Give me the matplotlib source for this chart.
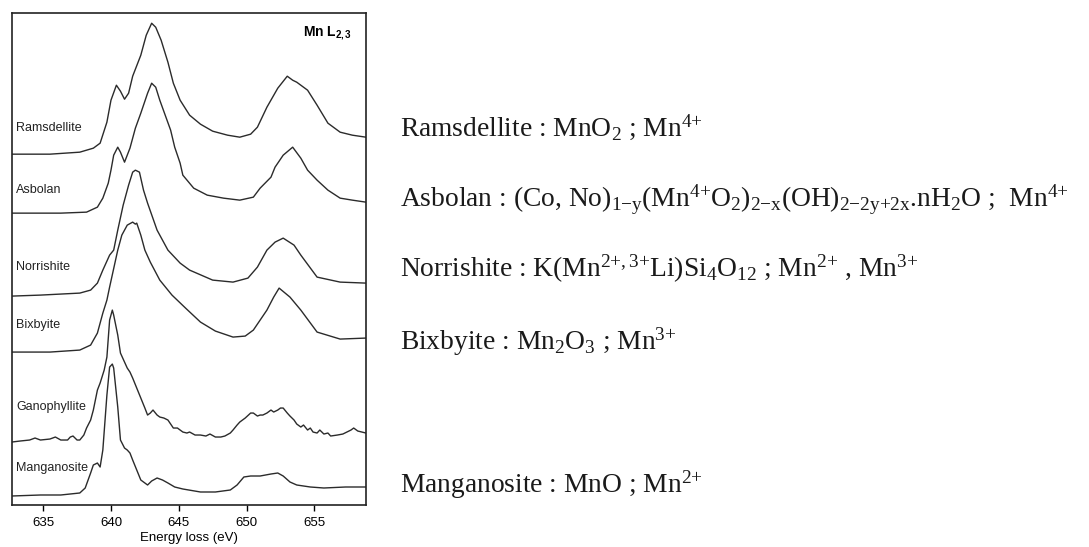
import matplotlib
matplotlib.use("Agg")
import matplotlib.pyplot as plt

# Mn L2,3 edge spectra, intensities in arbitrary units (stacked)
ramsdellite_e = [632.7, 635.5, 637.7, 638.7, 639.2, 639.7, 640.0, 640.4, 640.7, 641.0,
                 641.3, 641.6, 642.2, 642.6, 643.0, 643.3, 643.7, 644.2, 644.6, 645.1,
                 645.8, 646.6, 647.5, 648.6, 649.5, 650.3, 650.8, 651.5, 652.3, 653.0,
                 653.4, 653.7, 654.5, 655.2, 656.0, 656.9, 657.8, 658.8]
ramsdellite_i = [351, 351, 353, 357, 362, 383, 405, 420, 414, 406,
                 412, 429, 450, 470, 482, 478, 465, 443, 422, 405,
                 390, 381, 374, 370, 368, 371, 378, 398, 417, 429,
                 425, 423, 415, 400, 382, 373, 370, 368]

asbolan_e = [632.7, 634.8, 636.3, 638.2, 639.0, 639.4, 639.8, 640.0, 640.2, 640.5,
             640.7, 641.0, 641.4, 641.8, 642.2, 642.7, 643.0, 643.3, 643.6, 644.0,
             644.4, 644.7, 645.1, 645.3, 646.1, 647.1, 648.3, 649.5, 650.5, 651.0,
             651.8, 652.1, 652.7, 653.4, 654.0, 654.5, 655.2, 656.0, 656.9, 657.8, 658.8]
asbolan_i = [292, 292, 292, 293, 298, 307, 322, 335, 350, 358,
             353, 343, 357, 377, 392, 412, 422, 418, 405, 390,
             375, 358, 342, 330, 317, 310, 307, 305, 308, 317,
             328, 338, 350, 358, 347, 335, 325, 315, 307, 305, 303]

norrishite_e = [632.7, 634.8, 637.7, 638.5, 639.0, 639.4, 639.9, 640.2, 640.5, 640.9,
                641.3, 641.6, 641.8, 642.1, 642.4, 642.7, 643.4, 644.2, 645.1, 645.8,
                647.5, 649.0, 650.1, 650.8, 651.5, 652.1, 652.7, 653.5, 654.0, 655.2,
                656.9, 658.8]
norrishite_i = [209, 210, 212, 215, 222, 235, 250, 255, 275, 300,
                320, 333, 335, 333, 315, 302, 275, 255, 242, 235,
                225, 223, 227, 238, 255, 263, 267, 260, 250, 228,
                223, 222]

bixbyite_e = [632.7, 635.5, 637.7, 638.5, 639.0, 639.4, 639.7, 639.9, 640.5, 640.8,
              641.2, 641.6, 641.8, 641.9, 642.2, 642.5, 642.9, 643.6, 644.5, 645.5,
              646.6, 647.7, 649.0, 649.9, 650.5, 651.0, 651.5, 652.0, 652.4, 653.2,
              654.0, 655.2, 656.9, 658.8]
bixbyite_i = [153, 153, 155, 160, 172, 192, 205, 218, 255, 270,
              280, 283, 281, 282, 270, 255, 243, 225, 210, 197,
              183, 174, 168, 169, 175, 185, 195, 208, 217, 208,
              195, 173, 166, 167]

ganophyllite_e = [632.7, 633.3, 634.0, 634.4, 634.8, 635.5, 635.9, 636.3, 636.8, 637.0,
                  637.2, 637.5, 637.7, 638.0, 638.2, 638.5, 638.7, 639.0, 639.2, 639.5,
                  639.7, 639.9, 640.1, 640.2, 640.5, 640.7, 641.0, 641.2, 641.4, 641.6,
                  641.9, 642.2, 642.5, 642.7, 642.9, 643.1, 643.4, 643.6, 643.9, 644.2,
                  644.4, 644.6, 644.9, 645.1, 645.3, 645.6, 645.8, 646.2, 646.6, 647.0,
                  647.3, 647.7, 648.1, 648.4, 648.8, 649.0, 649.3, 649.5, 649.9, 650.3,
                  650.5, 650.8, 651.0, 651.2, 651.5, 651.8, 652.0, 652.3, 652.5, 652.7,
                  653.0, 653.2, 653.5, 653.7, 654.0, 654.2, 654.5, 654.7, 654.9, 655.2,
                  655.4, 655.7, 656.0, 656.2, 656.7, 657.1, 657.7, 657.9, 658.2, 658.5,
                  658.8]
ganophyllite_i = [63, 64, 65, 67, 65, 66, 68, 65, 65, 68,
                  69, 65, 65, 70, 77, 85, 95, 115, 122, 135,
                  148, 185, 195, 190, 170, 152, 143, 137, 133, 127,
                  117, 107, 97, 90, 92, 95, 90, 88, 87, 85,
                  81, 77, 77, 75, 73, 72, 73, 70, 70, 69,
                  71, 68, 68, 69, 72, 75, 80, 83, 87, 92,
                  92, 89, 90, 90, 92, 95, 93, 95, 97, 97,
                  92, 89, 85, 81, 78, 80, 75, 77, 73, 72,
                  75, 71, 72, 69, 70, 71, 75, 77, 74, 73,
                  72]

manganosite_e = [632.7, 634.8, 636.3, 637.7, 638.1, 638.5, 638.7, 639.0, 639.2, 639.4,
                 639.7, 639.9, 640.1, 640.2, 640.5, 640.7, 641.0, 641.2, 641.4, 641.6,
                 641.9, 642.2, 642.4, 642.7, 643.0, 643.4, 643.8, 644.2, 644.7, 645.3,
                 646.6, 647.7, 648.8, 649.3, 649.8, 650.3, 651.0, 651.8, 652.3, 652.7,
                 653.2, 653.7, 654.7, 655.7, 657.3, 658.8]
manganosite_i = [9, 10, 10, 12, 17, 32, 40, 42, 38, 55,
                 110, 138, 141, 137, 98, 65, 57, 55, 52, 45,
                 35, 25, 23, 20, 24, 27, 25, 22, 18, 16,
                 13, 13, 15, 20, 28, 29, 29, 31, 32, 29,
                 23, 20, 18, 17, 18, 18]

names = ["Ramsdellite", "Asbolan", "Norrishite", "Bixbyite", "Ganophyllite", "Manganosite"]
energies = [ramsdellite_e, asbolan_e, norrishite_e, bixbyite_e, ganophyllite_e, manganosite_e]
intensities = [ramsdellite_i, asbolan_i, norrishite_i, bixbyite_i, ganophyllite_i, manganosite_i]
label_y = [377, 315, 238, 180, 98, 37]

formulas = [
    r"Ramsdellite : MnO$_2$ ; Mn$^{4{+}}$",
    r"Asbolan : (Co, No)$_{\mathrm{1{-}y}}$(Mn$^{4{+}}$O$_2$)$_{\mathrm{2{-}x}}$(OH)$_{\mathrm{2{-}2y{+}2x}}$.nH$_2$O ;  Mn$^{4{+}}$",
    r"Norrishite : K(Mn$^{\mathit{2{+},3{+}}}$Li)Si$_4$O$_{12}$ ; Mn$^{2{+}}$ , Mn$^{3{+}}$",
    r"Bixbyite : Mn$_2$O$_3$ ; Mn$^{3{+}}$",
    r"Manganosite : MnO ; Mn$^{2{+}}$",
]
formula_y = [0.753, 0.622, 0.494, 0.360, 0.099]

plt.rcParams["mathtext.fontset"] = "custom"
plt.rcParams["mathtext.rm"] = "Liberation Serif"
plt.rcParams["mathtext.it"] = "Liberation Serif:italic"
plt.rcParams["mathtext.bf"] = "Liberation Sans:bold"

fig = plt.figure(figsize=(10.89, 5.47), dpi=100)
ax = fig.add_axes([0.011, 0.0768, 0.325, 0.899])

for e, i in zip(energies, intensities):
    ax.plot(e, i, color="#2b2b2b", lw=1.0)

for name, y in zip(names, label_y):
    ax.text(633.0, y, name, fontsize=9, family="Liberation Sans",
            va="center", ha="left", color="#222222")

ax.text(0.96, 0.96, r"Mn L$_{\mathbf{2,3}}$", transform=ax.transAxes, ha="right",
        va="center", fontsize=10, fontweight="bold", family="Liberation Sans")

ax.set_xlim(632.7, 658.8)
ax.set_ylim(0, 492)
ax.set_yticks([])
ax.set_xticks([635, 640, 645, 650, 655])
ax.tick_params(axis="x", direction="out", length=4, width=1, labelsize=9.5, pad=5)
for lab in ax.get_xticklabels():
    lab.set_family("Liberation Sans")
ax.set_xlabel("Energy loss (eV)", fontsize=9.5, family="Liberation Sans", labelpad=2)
for s in ax.spines.values():
    s.set_linewidth(1.2)
    s.set_color("#222222")

for txt, y in zip(formulas, formula_y):
    fig.text(0.367, y, txt, fontsize=19.8, family="Liberation Serif",
             va="baseline", ha="left", color="#1a1a1a")

fig.savefig("out.png", dpi=100)
